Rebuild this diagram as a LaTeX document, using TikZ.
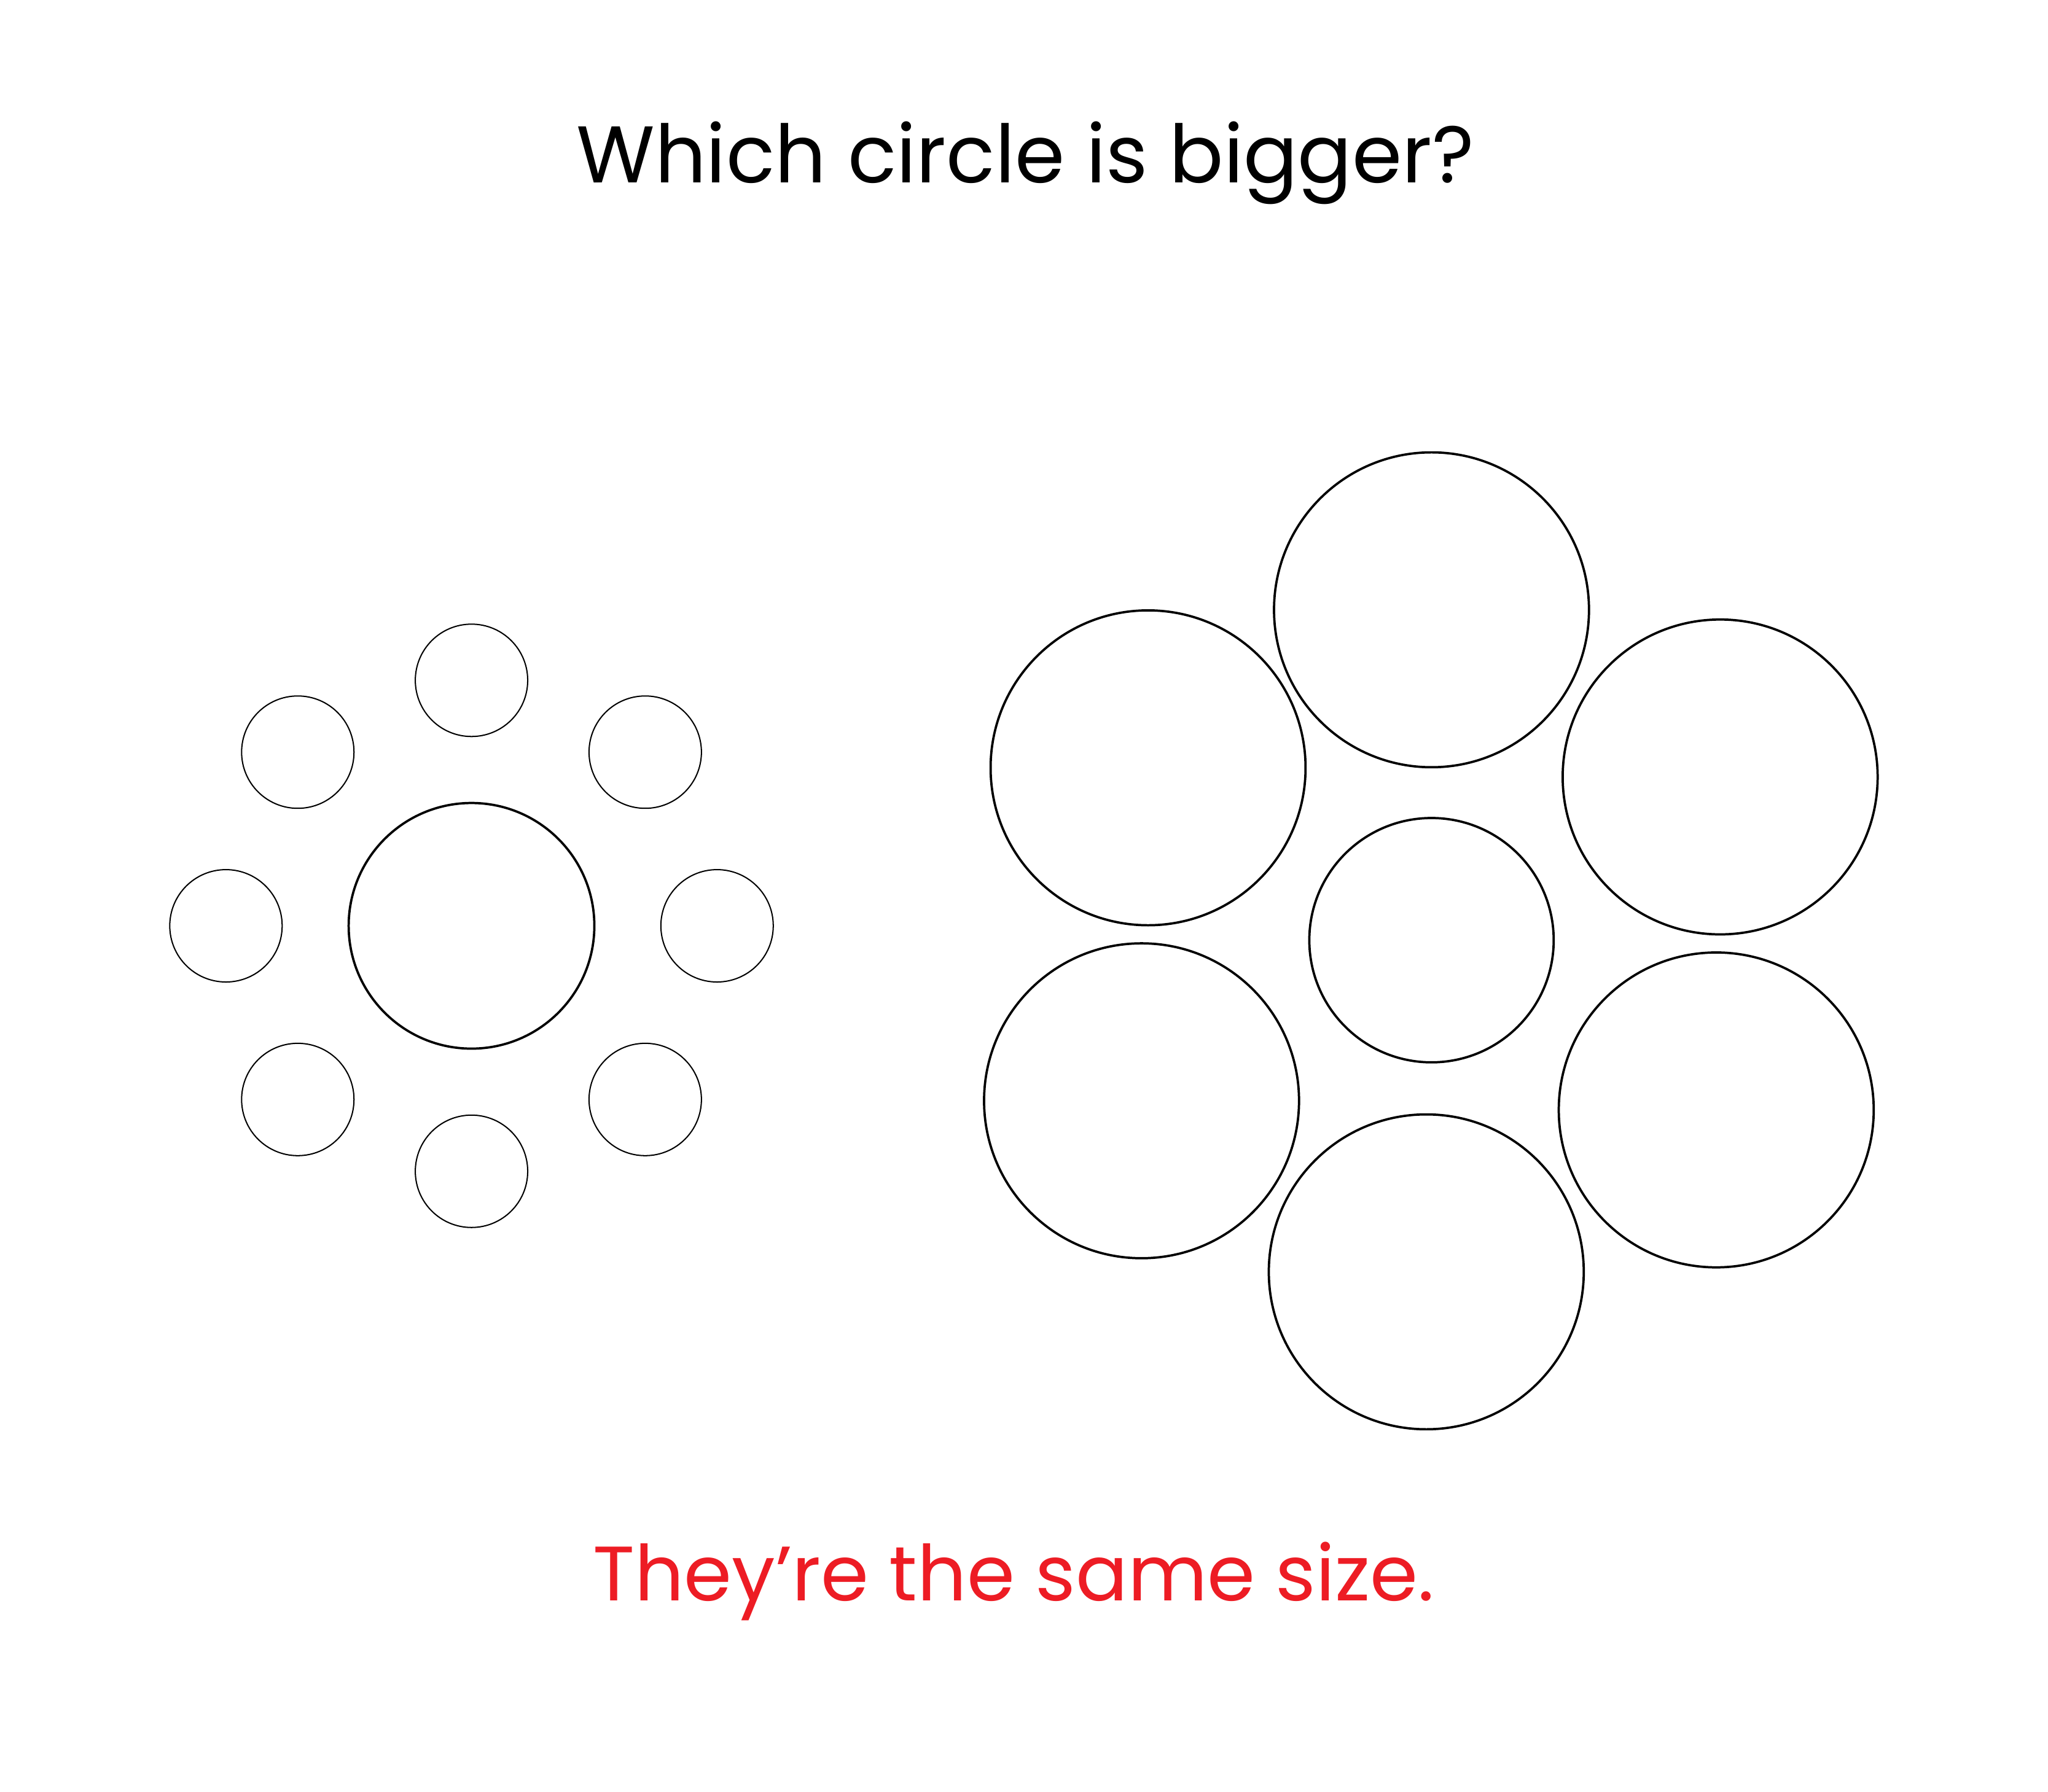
\documentclass[tikz,border=0pt]{standalone}
\usepackage{fontspec}
\setmainfont{Poppins}
\usepackage{tikz}
\usetikzlibrary{positioning}
\definecolor{answerred}{HTML}{ED1C24}

\begin{document}
\begin{tikzpicture}[x=0.01cm, y=-0.01cm,
  ring/.style={circle, draw, inner sep=0pt, line width=0.27pt, minimum size=0.86cm},
  core/.style={circle, draw, inner sep=0pt, line width=0.5pt, minimum size=1.88cm},
  petal/.style={circle, draw, inner sep=0pt, line width=0.5pt, minimum size=2.41cm}]

  \useasboundingbox (0,0) rectangle (1568,1372);

  % Titles
  \node[anchor=base, font=\fontsize{17.5}{20}\selectfont] (question) at (785,140) {Which circle is bigger?};
  \node[anchor=base, text=answerred, font=\fontsize{16.8}{20}\selectfont] (answer) at (776,1226) {They’re the same size.};

  % Left group: big centre, small ring
  \node[core] (Lc) at (361,709) {};
  \node[ring] (L1) at (361,521) {};
  \node[ring] (L2) at (494,576) {};
  \node[ring] (L3) at (549,709) {};
  \node[ring] (L4) at (494,842) {};
  \node[ring] (L5) at (361,897) {};
  \node[ring] (L6) at (228,842) {};
  \node[ring] (L7) at (173,709) {};
  \node[ring] (L8) at (228,576) {};

  % Right group: same centre, big ring
  \node[core, minimum size=1.87cm] (Rc) at (1096,720) {};
  \node[petal] (R1) at (1096,467) {};
  \node[petal] (R2) at (1317,595) {};
  \node[petal] (R3) at (1314,850) {};
  \node[petal] (R4) at (1092,974) {};
  \node[petal] (R5) at (874,843) {};
  \node[petal] (R6) at (879,588) {};
\end{tikzpicture}
\end{document}
